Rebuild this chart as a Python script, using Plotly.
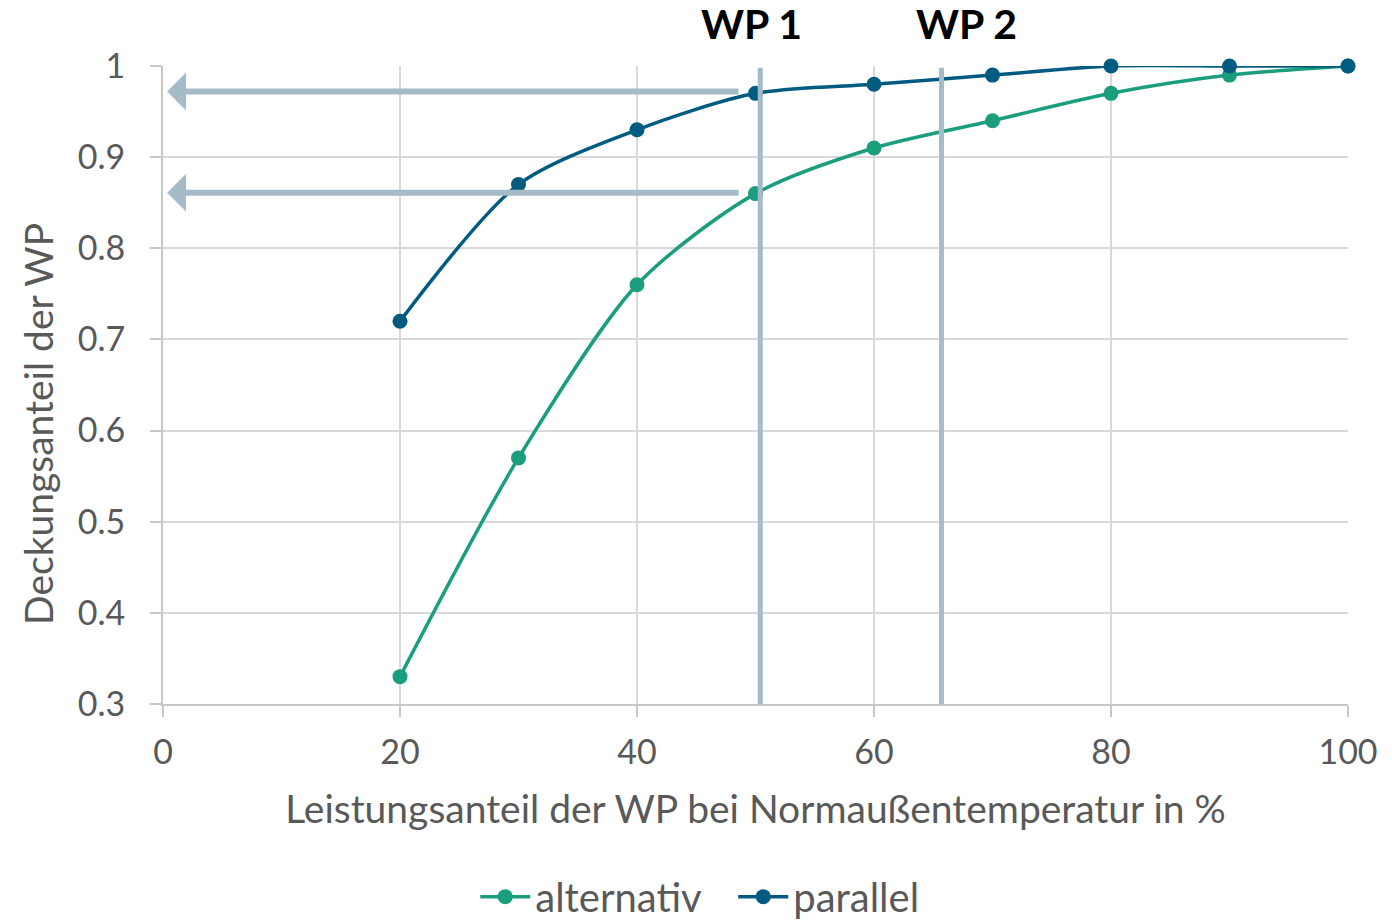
import plotly.graph_objects as go

x_vals = [20, 30, 40, 50, 60, 70, 80, 90, 100]
alternativ = [0.33, 0.57, 0.76, 0.86, 0.91, 0.94, 0.97, 0.99, 1.0]
parallel = [0.72, 0.87, 0.93, 0.97, 0.98, 0.99, 1.0, 1.0, 1.0]

wp_lines_x = [50.4, 65.7]
wp_labels = ["WP 1", "WP 2"]
wp_label_x = [49.7, 67.8]
arrow_levels = [0.972, 0.861]
arrow_start_x = 48.7
arrow_tip_x = 0.35

x_ticks = [0, 20, 40, 60, 80, 100]
y_ticks = [0.3, 0.4, 0.5, 0.6, 0.7, 0.8, 0.9, 1.0]
y_ticktext = ["0.3", "0.4", "0.5", "0.6", "0.7", "0.8", "0.9", "1"]

C_ALT = "#1b9e7d"
C_PAR = "#005b80"
C_REF = "#a6bbc8"
FONT = "Lato"

fig = go.Figure()
fig.add_trace(go.Scatter(x=x_vals, y=alternativ, name="alternativ", mode="lines+markers",
                         line=dict(color=C_ALT, width=3.5, shape="spline", smoothing=0.8),
                         marker=dict(size=15, color=C_ALT), cliponaxis=False))
fig.add_trace(go.Scatter(x=x_vals, y=parallel, name="parallel", mode="lines+markers",
                         line=dict(color=C_PAR, width=3.5, shape="spline", smoothing=0.8),
                         marker=dict(size=15, color=C_PAR), cliponaxis=False))

shapes = []
for xv in wp_lines_x:
    shapes.append(dict(type="line", xref="x", yref="y", x0=xv, x1=xv, y0=0.296, y1=0.998,
                       line=dict(color=C_REF, width=5), layer="above"))

annotations = []
for lab, xv in zip(wp_labels, wp_label_x):
    annotations.append(dict(text="<b>" + lab + "</b>", x=xv, y=1.066, xref="x", yref="paper",
                            yanchor="middle", showarrow=False,
                            font=dict(family=FONT, size=41, color="black")))
for yv in arrow_levels:
    annotations.append(dict(x=arrow_tip_x, y=yv, ax=arrow_start_x, ay=yv, xref="x", yref="y",
                            axref="x", ayref="y", text="", showarrow=True, arrowhead=1,
                            arrowsize=1.05, arrowwidth=6, arrowcolor=C_REF, standoff=0))
annotations.append(dict(text="Deckungsanteil der WP", x=-0.1055, y=0.439, xref="paper", yref="paper",
                        xanchor="center", yanchor="middle", textangle=-90, showarrow=False,
                        font=dict(family=FONT, size=39, color="#595959")))

fig.update_layout(
    width=1392, height=920,
    paper_bgcolor="white", plot_bgcolor="white",
    margin=dict(l=163, r=44, t=66, b=216, autoexpand=False),
    font=dict(family=FONT, color="#595959", size=34),
    shapes=shapes, annotations=annotations,
    legend=dict(orientation="h", x=0.2635, xanchor="left", y=-0.302, yanchor="middle",
                font=dict(size=40, color="#595959"), itemwidth=50, entrywidth=193,
                entrywidthmode="pixels"),
    xaxis=dict(range=[0, 100], tickvals=x_ticks, showgrid=True, gridcolor="#d9d9d9", gridwidth=2,
               showline=True, linecolor="#c8c8c8", linewidth=2, ticks="outside", tickcolor="#c8c8c8",
               ticklen=11, tickwidth=2, zeroline=False, tickfont=dict(size=34),
               ticklabelstandoff=6, automargin=False,
               title=dict(text="Leistungsanteil der WP bei Normaußentemperatur in %", font=dict(size=39),
                          standoff=26)),
    yaxis=dict(range=[0.3, 1.0], tickvals=y_ticks, ticktext=y_ticktext, showgrid=True,
               gridcolor="#d9d9d9", gridwidth=2, showline=True, linecolor="#c8c8c8", linewidth=2,
               ticks="outside", tickcolor="#c8c8c8", ticklen=11, tickwidth=2, zeroline=False,
               tickfont=dict(size=34), ticklabelstandoff=18, automargin=False),
)

fig.write_html("out.html")
